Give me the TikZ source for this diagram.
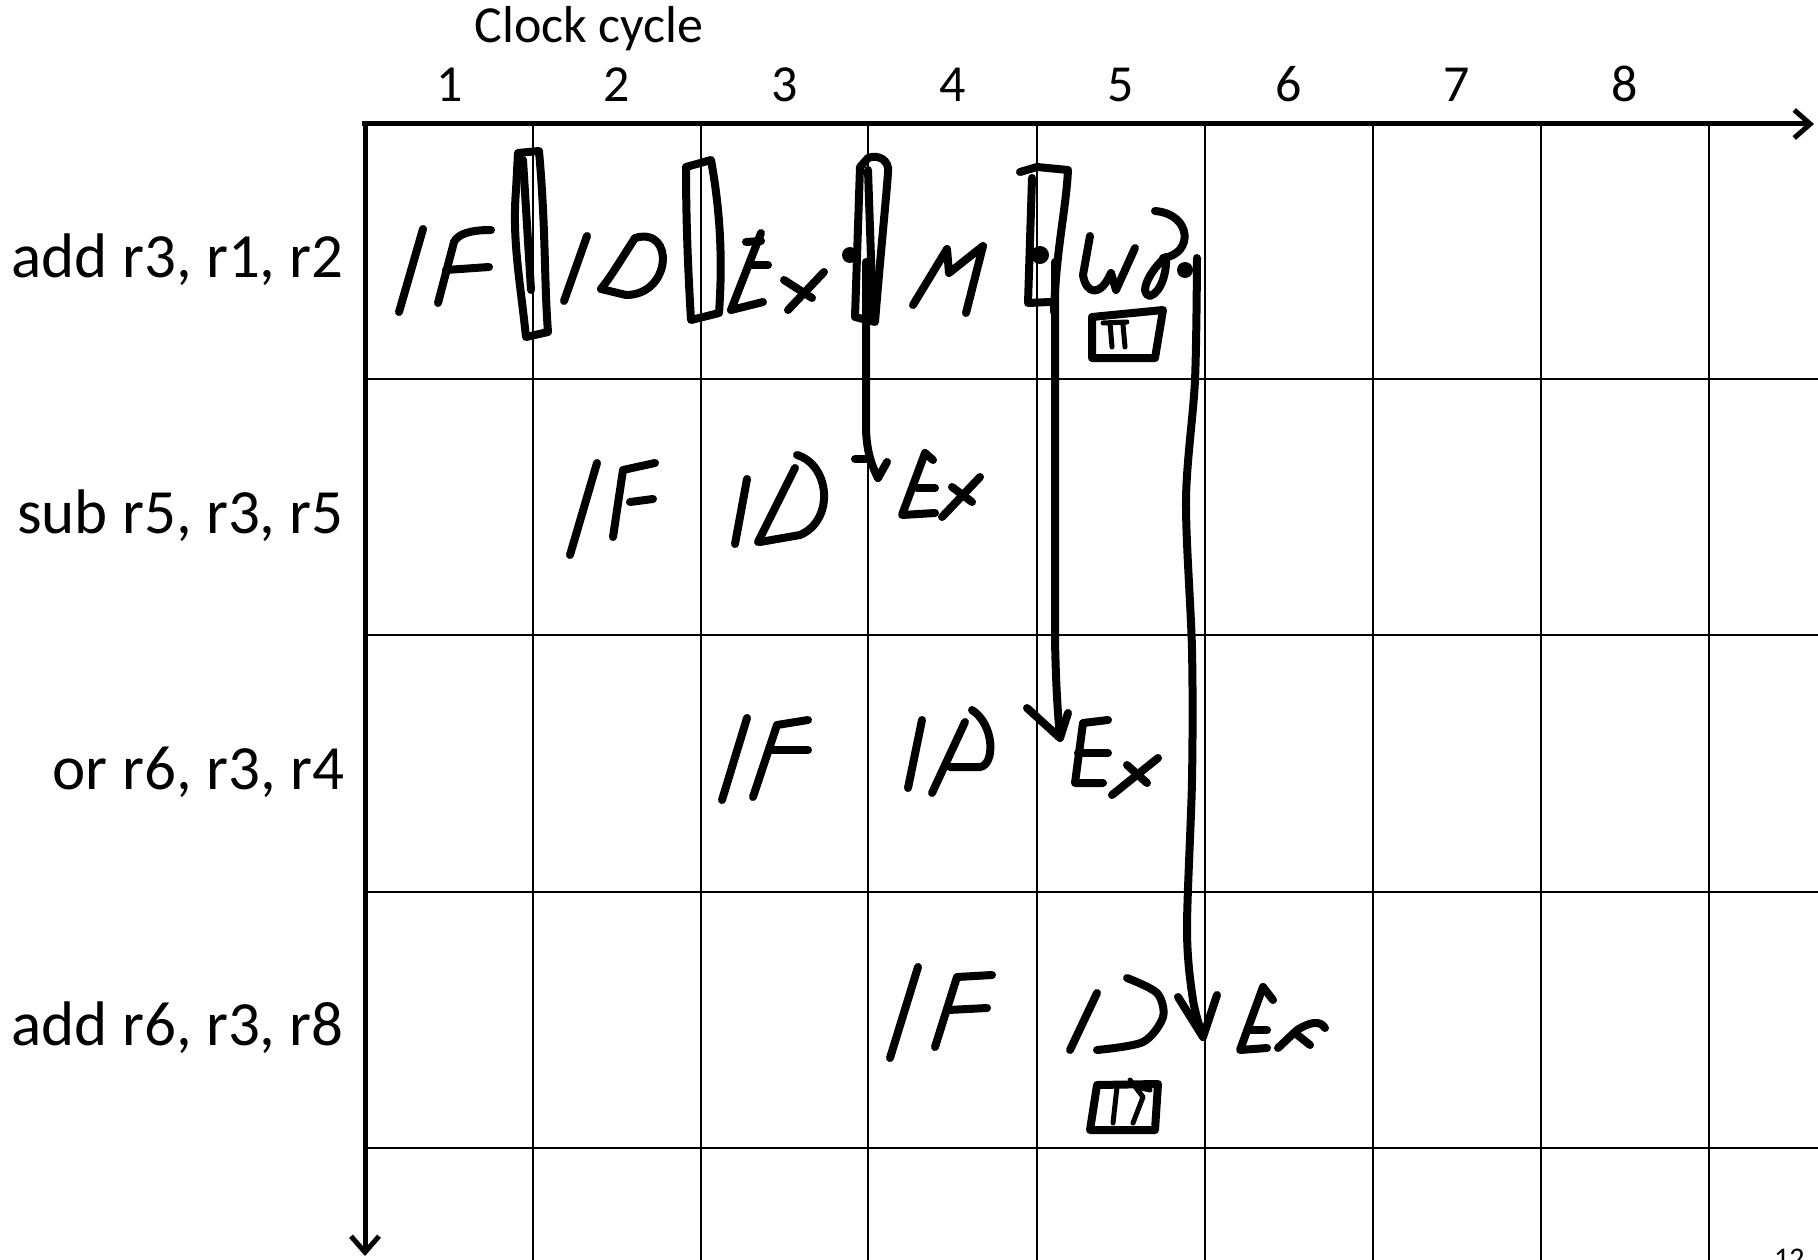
\documentclass[tikz,border=0pt]{standalone}
\usepackage{fontspec}
\setmainfont{Carlito}
\usetikzlibrary{arrows.meta}
\begin{document}
\begin{tikzpicture}[x=1pt,y=-1pt,
  gridline/.style={line width=2pt},
  axis/.style={line width=5pt,-{Straight Barb[length=16pt,width=28pt]}},
  hand/.style={line width=8pt,line cap=round,line join=round},
  thinhand/.style={line width=5pt,line cap=round,line join=round},
  lbl/.style={inner sep=0pt,font=\fontsize{63}{70}\selectfont},
  num/.style={inner sep=0pt,font=\fontsize{52}{58}\selectfont}]
\useasboundingbox (0,0) rectangle (1818,1260);
\fill[white] (0,0) rectangle (1818,1260);

% grid
\foreach \x in {533,701,868,1037,1205,1373,1541,1709}
  \draw[gridline] (\x,124) -- (\x,1262);
\foreach \y in {379,635,892,1148}
  \draw[gridline] (365,\y) -- (1820,\y);

% axes
\coordinate (o) at (365,124);
\coordinate (xend) at (1814,124);
\coordinate (yend) at (365,1256);
\draw[axis] (362,124) -- (xend);
\draw[axis] (365,121) -- (yend);

% headings
\node[num,anchor=base] (cc) at (589,43) {Clock cycle};
\node[num,anchor=base] (c1) at (450,102) {1};
\node[num,anchor=base] (c2) at (617,102) {2};
\node[num,anchor=base] (c3) at (785,102) {3};
\node[num,anchor=base] (c4) at (953,102) {4};
\node[num,anchor=base] (c5) at (1121,102) {5};
\node[num,anchor=base] (c6) at (1289,102) {6};
\node[num,anchor=base] (c7) at (1457,102) {7};
\node[num,anchor=base] (c8) at (1625,102) {8};

\node[lbl,anchor=base east] (i1) at (344,277) {add r3, r1, r2};
\node[lbl,anchor=base east] (i2) at (344,533) {sub r5, r3, r5};
\node[lbl,anchor=base east] (i3) at (344,789) {or r6, r3, r4};
\node[lbl,anchor=base east] (i4) at (344,1045) {add r6, r3, r8};

\node[inner sep=0pt,anchor=base west,font=\fontsize{30}{34}\selectfont] (pg) at (1774,1268) {12};

% ---- row 1 handwriting ----
% IF
\draw[hand] (423,229) -- (399,312);
\draw[hand] (491,230) .. controls (470,230) and (458,234) .. (454,242) -- (438,303);
\draw[hand] (446,270) -- (489,267);
% bracket 1
\draw[hand] (518,153) -- (539,151) .. controls (546,230) and (544,280) .. (548,332) -- (526,337) .. controls (520,280) and (512,240) .. (516,190) -- cycle;
\draw[hand] (523,160) -- (531,290);
% ID
\draw[hand] (587,236) -- (564,301);
\draw[hand] (635,238) .. controls (622,258) and (612,275) .. (601,289);
\draw[hand] (635,238) .. controls (675,226) and (672,295) .. (626,295) -- (601,289);
% bracket 2
\draw[hand] (686,167) -- (711,160) .. controls (722,220) and (722,270) .. (719,313) -- (691,320) .. controls (688,270) and (686,220) .. (686,167) -- cycle;
% Ex
\draw[hand] (761,233) -- (731,310) -- (763,302);
\draw[hand] (746,242) -- (761,241);
\draw[hand] (749,265) -- (768,265);
\draw[hand] (784,280) -- (812,298);
\draw[hand] (824,272) -- (788,310);
% bracket 3
\draw[hand] (860,167) -- (855,317) -- (875,322) .. controls (880,260) and (886,200) .. (888,173) .. controls (890,160) and (878,154) .. (868,158) -- cycle;
\draw[hand] (868,170) -- (873,317);
\fill (850,255) circle (8pt);
% M
\draw[hand] (913,305) -- (947,249) -- (949,273) -- (983,246) -- (966,313);
% bracket 4
\draw[hand] (1020,172) -- (1037,167) -- (1068,170) .. controls (1066,210) and (1056,250) .. (1054,312);
\draw[hand] (1032,178) -- (1028,303) -- (1050,302);
\fill (1040,255) circle (9pt);
% WB
\draw[hand] (1090,236) -- (1083,275) .. controls (1086,294) and (1100,298) .. (1111,273) -- (1116,290) -- (1135,248);
\draw[hand] (1155,211) .. controls (1192,214) and (1194,254) .. (1163,258);
\draw[hand] (1166,257) .. controls (1150,270) and (1138,294) .. (1150,296) .. controls (1162,292) and (1167,270) .. (1166,257);
\fill (1185,270) circle (8pt);
% small box under WB
\draw[hand] (1092,317) -- (1163,310) -- (1155,358) -- (1092,358) -- cycle;
\draw[thinhand] (1103,323) -- (1127,322);
\draw[thinhand] (1110,323) -- (1112,347);
\draw[thinhand] (1123,325) -- (1125,347);

% ---- forwarding arrows ----
\coordinate (a1s) at (866,262);
\coordinate (a1t) at (878,478);
\draw[hand] (a1s) -- (866,430) .. controls (867,455) and (873,468) .. (a1t);
\draw[hand] (855,459) -- (866,459);
\draw[hand] (a1t) -- (887,462);

\coordinate (a2s) at (1055,262);
\coordinate (a2t) at (1060,738);
\draw[hand] (a2s) -- (1055,640) .. controls (1056,690) and (1058,715) .. (a2t);
\draw[hand] (1027,708) -- (a2t) -- (1068,713);

\coordinate (a3t) at (1203,1037);
\draw[hand] plot[smooth] coordinates {(1197,258) (1195,380) (1186,500) (1192,650) (1192,780) (1187,930) (1193,1000) (1203,1037)};
\draw[hand] (1178,997) -- (a3t) -- (1217,995);

% ---- row 2 ----
\draw[hand] (597,463) -- (570,555);
\draw[hand] (655,463) -- (623,470) -- (613,537);
\draw[hand] (630,502) -- (653,499);
\draw[hand] (747,479) -- (735,544);
\draw[hand] (795,468) -- (758,542);
\draw[hand] (797,455) .. controls (830,465) and (835,520) .. (800,535) -- (760,542);
\draw[hand] (925,453) -- (902,515) -- (935,513);
\draw[hand] (925,453) -- (933,460);
\draw[hand] (917,488) -- (935,488);
\draw[hand] (980,477) -- (942,517);
\draw[hand] (952,487) -- (972,502);

% ---- row 3 ----
\draw[hand] (747,718) -- (722,800);
\draw[hand] (808,720) -- (777,725) -- (753,797);
\draw[hand] (772,750) -- (808,750);
\draw[hand] (922,720) -- (908,788);
\draw[hand] (965,722) -- (932,793);
\draw[hand] (972,710) .. controls (995,725) and (995,765) .. (980,767) -- (950,767);
\draw[hand] (1108,720) -- (1083,723) -- (1075,783) -- (1103,783);
\draw[hand] (1078,753) -- (1108,753);
\draw[hand] (1158,758) -- (1112,795);
\draw[hand] (1127,765) -- (1147,783);

% ---- row 4 ----
\draw[hand] (918,967) -- (890,1058);
\draw[hand] (992,975) -- (957,977) -- (935,1047);
\draw[hand] (948,1010) -- (987,1008);
\draw[hand] (1097,993) -- (1070,1050);
\draw[hand] plot[smooth] coordinates {(1127,978) (1157,993) (1163,1017) (1143,1042) (1097,1050)};
\draw[hand] (1263,987) -- (1240,1050) -- (1267,1048);
\draw[hand] (1263,987) -- (1273,1000);
\draw[hand] (1250,1030) -- (1267,1030);
\draw[hand] (1278,1048) -- (1297,1030) .. controls (1310,1022) and (1320,1020) .. (1325,1028);
\draw[hand] (1295,1033) -- (1310,1045);
\draw[hand] (1097,1085) -- (1158,1084) -- (1155,1130) -- (1090,1130) -- cycle;
\draw[thinhand] (1117,1087) -- (1113,1123);
\draw[thinhand] (1130,1080) -- (1143,1097) -- (1133,1123);
\draw[thinhand] (1137,1087) -- (1150,1090);
\end{tikzpicture}
\end{document}
